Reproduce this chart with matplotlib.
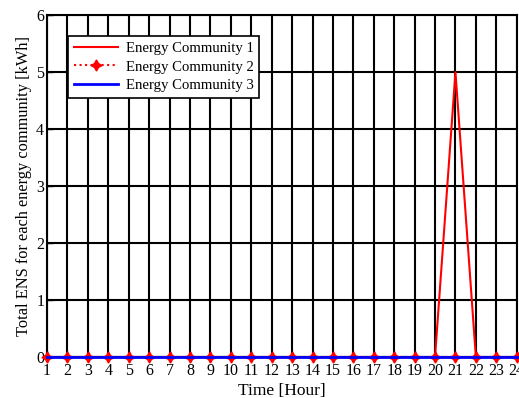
import matplotlib
matplotlib.use("Agg")
import matplotlib.pyplot as plt
import numpy as np

plt.rcParams['font.family'] = ['Liberation Serif', 'DejaVu Serif']

hours = list(range(1, 25))
ec1 = [0]*20 + [5, 0, 0, 0]
ec2 = [0]*24
ec3 = [0]*24

fig = plt.figure(figsize=(5.19, 3.98), dpi=100)
ax = fig.add_axes([0.0906, 0.103, 0.905, 0.859])

ax.plot(hours, ec1, color='red', lw=1.5, label='Energy Community 1')
ax.plot(hours, ec2, color='red', lw=1.5, ls=':', marker=(4, 1, 0), ms=8,
        clip_on=False, zorder=3, label='Energy Community 2')
ax.plot(hours, ec3, color='blue', lw=2, clip_on=False, zorder=4, label='Energy Community 3')

ax.set_xlim(1, 24)
ax.set_ylim(0, 6)
ax.set_xticks(hours)
ax.set_yticks(range(0, 7))
ax.grid(True, color='black', lw=1.5, ls='-')
ax.set_axisbelow(True)
for s in ax.spines.values():
    s.set_linewidth(1.5)
ax.tick_params(labelsize=11.5, direction='in', length=4, width=1)
ax.tick_params(axis='x', pad=4)
ax.tick_params(axis='y', pad=2)
ax.set_xlabel('Time [Hour]', fontsize=12.5, labelpad=3)
ax.set_ylabel('Total ENS for each energy community [kWh]', fontsize=11.8, labelpad=3)

leg = ax.legend(loc='upper left', bbox_to_anchor=(0.045, 0.939), borderaxespad=0,
                fontsize=10.6, fancybox=False, framealpha=1, edgecolor='black',
                handlelength=3.0, handletextpad=0.5, borderpad=0.4, labelspacing=0.35)
leg.get_frame().set_linewidth(1.2)

fig.savefig('out.png', dpi=100)
